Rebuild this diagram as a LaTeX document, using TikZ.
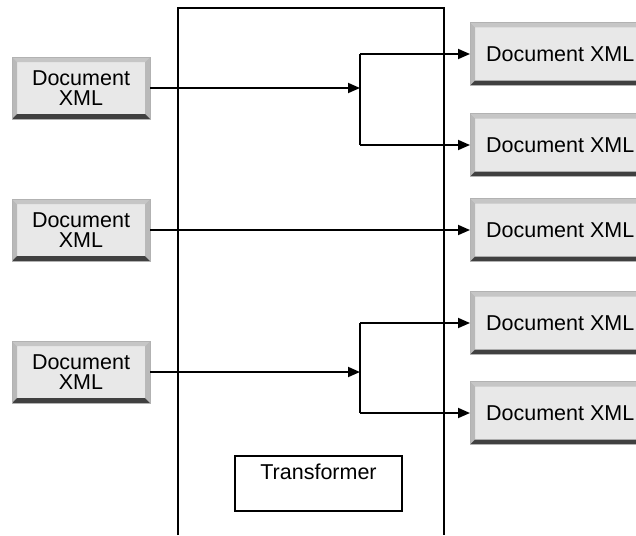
\documentclass[tikz,border=0pt]{standalone}
\usepackage{fontspec}
\setmainfont{Liberation Sans}
\usetikzlibrary{positioning, arrows.meta, calc}

\begin{document}
\begin{tikzpicture}[
        x=1pt, y=1pt,
        font=\fontsize{21.5}{20}\selectfont,
        % Define styles for the nodes
        bevel_node/.style={fill=gray!18, draw=gray!60, line width=0.4pt, align=center, inner sep=0pt,
            path picture={
                \coordinate (nw) at (path picture bounding box.north west);
                \coordinate (ne) at (path picture bounding box.north east);
                \coordinate (sw) at (path picture bounding box.south west);
                \coordinate (se) at (path picture bounding box.south east);
                \fill[gray!45] (nw) -- (ne) -- ($(ne)+(-5,-5)$) -- ($(nw)+(5,-5)$) -- cycle;
                \fill[gray!55] (nw) -- ($(nw)+(5,-5)$) -- ($(sw)+(5,5)$) -- (sw) -- cycle;
                \fill[gray!55] (ne) -- ($(ne)+(-5,-5)$) -- ($(se)+(-5,5)$) -- (se) -- cycle;
                \fill[black!75] (sw) -- ($(sw)+(5,5)$) -- ($(se)+(-5,5)$) -- (se) -- cycle;
            }},
        in_node/.style={bevel_node, minimum width=138pt, minimum height=62pt},
        out_node/.style={bevel_node, minimum width=180pt, minimum height=63pt},
        tf_node/.style={draw, line width=2pt, minimum width=167pt, inner xsep=0pt, inner ysep=5pt,
            text height=18pt, text depth=27pt},
        arrow/.style={-{Triangle[length=12pt, width=10pt]}, line width=1.8pt},
        frame/.style={line width=2pt}
    ]

    \useasboundingbox (0,0) rectangle (636,-535);
    \clip (0,0) rectangle (636,-535);

    % Transformer frame, open at the bottom
    \draw [frame] (178,-535) -- (178,-8) -- (444,-8) -- (444,-535);
    \node (tf) [tf_node, anchor=north] at (318.5,-455) {Transformer};

    % Input documents
    \node (in1) [in_node] at (81,-88) {Document\\XML};
    \node (in2) [in_node] at (81,-230) {Document\\XML};
    \node (in3) [in_node] at (81,-372) {Document\\XML};

    % Output documents
    \node (out1) [out_node, anchor=west] at (470,-54) {Document XML};
    \node (out2) [out_node, anchor=west] at (470,-145) {Document XML};
    \node (out3) [out_node, anchor=west] at (470,-230) {Document XML};
    \node (out4) [out_node, anchor=west] at (470,-323) {Document XML};
    \node (out5) [out_node, anchor=west] at (470,-413) {Document XML};

    % Split points
    \coordinate (j1) at (360,-88);
    \coordinate (j3) at (360,-372);

    % First input split in two
    \draw [arrow] (in1.east) -- (j1);
    \draw [frame] (j1) -- (j1 |- out1.west);
    \draw [frame] (j1) -- (j1 |- out2.west);
    \draw [arrow] (j1 |- out1.west) -- (out1.west);
    \draw [arrow] (j1 |- out2.west) -- (out2.west);

    % Second input passes straight through
    \draw [arrow] (in2.east) -- (out3.west);

    % Third input split in two
    \draw [arrow] (in3.east) -- (j3);
    \draw [frame] (j3) -- (j3 |- out4.west);
    \draw [frame] (j3) -- (j3 |- out5.west);
    \draw [arrow] (j3 |- out4.west) -- (out4.west);
    \draw [arrow] (j3 |- out5.west) -- (out5.west);

\end{tikzpicture}
\end{document}
